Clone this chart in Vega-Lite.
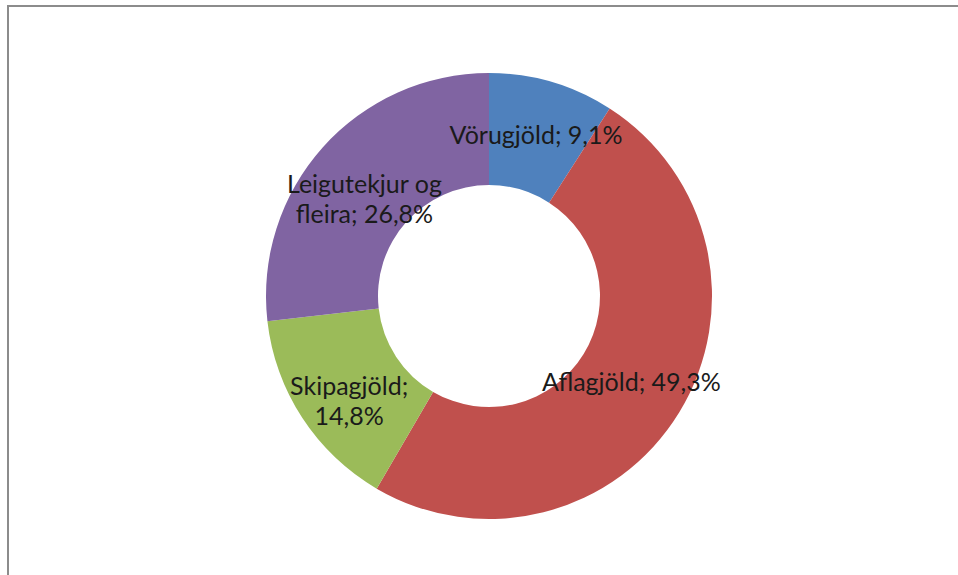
{
  "$schema": "https://vega.github.io/schema/vega-lite/v6.json",
  "width": 958,
  "height": 575,
  "autosize": {"type": "fit", "contains": "padding"},
  "padding": {"left": 8, "top": 6, "right": -40, "bottom": -11},
  "background": "white",
  "view": {"stroke": "#8c8c8c", "strokeWidth": 2, "fill": "white"},
  "data": {"values": [
    {"name": "Vörugjöld", "value": 9.1, "order": 1, "label": "Vörugjöld; 9,1%"},
    {"name": "Aflagjöld", "value": 49.3, "order": 2, "label": "Aflagjöld; 49,3%"},
    {"name": "Skipagjöld", "value": 14.8, "order": 3, "label": "Skipagjöld;\n14,8%"},
    {"name": "Leigutekjur og fleira", "value": 26.8, "order": 4, "label": "Leigutekjur og\nfleira; 26,8%"}
  ]},
  "encoding": {
    "theta": {"field": "value", "type": "quantitative", "stack": true},
    "order": {"field": "order", "type": "quantitative"}
  },
  "layer": [
    {
      "mark": {"type": "arc", "outerRadius": 223, "innerRadius": 111, "xOffset": -14},
      "encoding": {
        "color": {
          "field": "name", "type": "nominal", "legend": null,
          "scale": {
            "domain": ["Vörugjöld", "Aflagjöld", "Skipagjöld", "Leigutekjur og fleira"],
            "range": ["#4F81BD", "#C0504D", "#9BBB59", "#8064A2"]
          }
        }
      }
    },
    {
      "mark": {"type": "text", "radius": 167, "xOffset": -14, "font": "Lato", "fontSize": 25, "lineHeight": 30, "color": "#1a1a1a", "lineBreak": "\n", "align": "center", "baseline": "middle"},
      "encoding": {"text": {"field": "label"}}
    }
  ]
}
